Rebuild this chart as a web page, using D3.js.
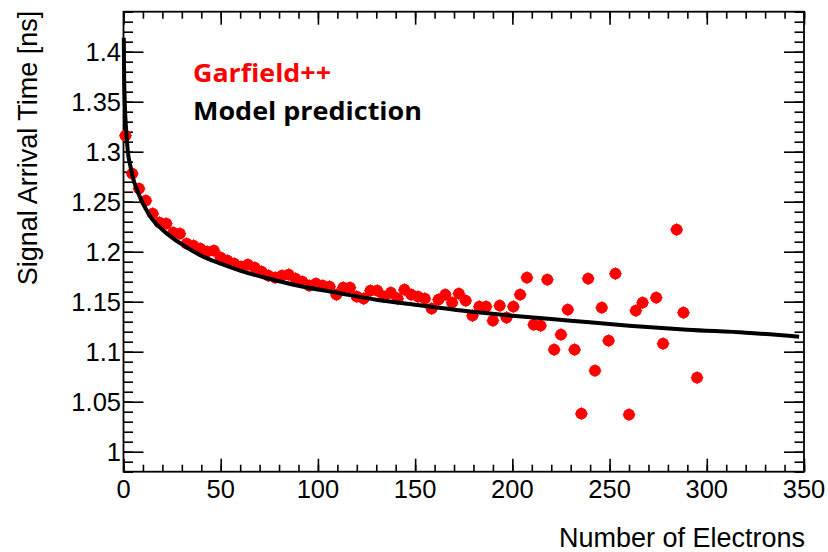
<!DOCTYPE html>
<html>
<head>
<meta charset="utf-8">
<script src="https://cdn.jsdelivr.net/npm/d3@7"></script>
<style>
  html, body { margin: 0; padding: 0; background: #fff; }
  svg { display: block; }
</style>
</head>
<body>
<svg id="chart" width="828" height="552"></svg>
<script>
// ---- data ----
const electrons = [1, 4.5, 8, 11.5, 15, 18.5, 22, 25.5, 29, 32.5, 36, 39.5, 43, 46.5, 50, 53.5, 57, 60.5, 64, 67.5,
  71, 74.5, 78, 81.5, 85, 88.5, 92, 95.5, 99, 102.5, 106, 109.5, 113, 116.5, 120, 123.5, 127, 130.5, 134, 137.5,
  141, 144.5, 148, 151.5, 155, 158.5, 162, 165.5, 169, 172.5, 176, 179.5, 183, 186.5, 190, 193.5, 197, 200.5,
  204, 207.5, 211, 214.5, 218, 221.5, 225, 228.5, 232, 235.5, 239, 242.5, 246, 249.5, 253, 260, 263.5, 267,
  274, 277.5, 284.5, 288, 295];
const arrivalTime = [1.316, 1.278, 1.263, 1.251, 1.238, 1.229, 1.228, 1.219, 1.218, 1.208, 1.206, 1.203, 1.200, 1.201,
  1.194, 1.191, 1.188, 1.185, 1.187, 1.184, 1.180, 1.176, 1.174, 1.176, 1.177, 1.173, 1.170, 1.166, 1.168, 1.166,
  1.165, 1.157, 1.164, 1.164, 1.155, 1.153, 1.161, 1.161, 1.155, 1.159, 1.153, 1.162, 1.157, 1.155, 1.153, 1.143,
  1.152, 1.157, 1.149, 1.158, 1.151, 1.136, 1.145, 1.145, 1.131, 1.146, 1.134, 1.145, 1.157, 1.174, 1.127, 1.126,
  1.172, 1.102, 1.117, 1.142, 1.102, 1.038, 1.173, 1.081, 1.144, 1.111, 1.178, 1.037, 1.141, 1.149, 1.154, 1.108,
  1.222, 1.139, 1.074];

const modelN = [0.15, 0.3, 0.6, 1.0, 1.5, 2.3, 3.5, 5, 6.5, 9, 12, 15, 20, 25, 32, 40, 50, 60, 75, 90,
  110, 130, 150, 175, 200, 230, 260, 290, 320, 347.5];
const modelT = [1.414, 1.380, 1.353, 1.333, 1.318, 1.299, 1.286, 1.273, 1.264, 1.252, 1.241, 1.232, 1.222, 1.214,
  1.205, 1.196, 1.188, 1.181, 1.173, 1.166, 1.159, 1.152, 1.147, 1.141, 1.136, 1.131, 1.126, 1.122, 1.119, 1.115];

const xTickValues = [0, 50, 100, 150, 200, 250, 300, 350];
const xTickLabels = ["0", "50", "100", "150", "200", "250", "300", "350"];
const yTickValues = [1, 1.05, 1.1, 1.15, 1.2, 1.25, 1.3, 1.35, 1.4];
const yTickLabels = ["1", "1.05", "1.1", "1.15", "1.2", "1.25", "1.3", "1.35", "1.4"];

const xTitle = "Number of Electrons";
const yTitle = "Signal Arrival Time [ns]";
const legendLabels = ["Garfield++", "Model prediction"];

// ---- layout ----
const L = 123.5, R = 804, T = 11.7, B = 471.7;
const svg = d3.select("#chart");
svg.append("rect").attr("width", 828).attr("height", 552).attr("fill", "#fff");

const x = d3.scaleLinear().domain([0, 350]).range([L, R]);
const y = d3.scaleLinear().domain([0.98, 1.44]).range([B, T]);

const axisFont = "'Liberation Sans', Arial, Helvetica, sans-serif";

const xMinor = d3.range(0, 351, 10);
const yMinor = d3.range(0, 47).map(i => +(0.98 + i * 0.01).toFixed(2));

function styleAxis(g) {
  g.select(".domain").remove();
  g.selectAll("line").attr("stroke", "#000").attr("stroke-width", 1.6);
  g.selectAll("text").remove();
}

// bottom
svg.append("g").attr("transform", `translate(0,${B})`)
  .call(d3.axisTop(x).tickValues(xMinor).tickSize(7).tickFormat("")).call(styleAxis);
svg.append("g").attr("transform", `translate(0,${B})`)
  .call(d3.axisTop(x).tickValues(xTickValues).tickSize(13).tickFormat("")).call(styleAxis);
// top
svg.append("g").attr("transform", `translate(0,${T})`)
  .call(d3.axisBottom(x).tickValues(xMinor).tickSize(7).tickFormat("")).call(styleAxis);
svg.append("g").attr("transform", `translate(0,${T})`)
  .call(d3.axisBottom(x).tickValues(xTickValues).tickSize(13).tickFormat("")).call(styleAxis);
// left
svg.append("g").attr("transform", `translate(${L},0)`)
  .call(d3.axisRight(y).tickValues(yMinor).tickSize(9.5).tickFormat("")).call(styleAxis);
svg.append("g").attr("transform", `translate(${L},0)`)
  .call(d3.axisRight(y).tickValues(yTickValues).tickSize(20).tickFormat("")).call(styleAxis);
// right
svg.append("g").attr("transform", `translate(${R},0)`)
  .call(d3.axisLeft(y).tickValues(yMinor).tickSize(9.5).tickFormat("")).call(styleAxis);
svg.append("g").attr("transform", `translate(${R},0)`)
  .call(d3.axisLeft(y).tickValues(yTickValues).tickSize(20).tickFormat("")).call(styleAxis);

// frame
svg.append("rect").attr("x", L).attr("y", T).attr("width", R - L).attr("height", B - T)
  .attr("fill", "none").attr("stroke", "#000").attr("stroke-width", 1.8);

// tick labels
svg.append("g").selectAll("text").data(xTickValues).join("text")
  .attr("x", d => x(d)).attr("y", 498.3)
  .attr("text-anchor", "middle")
  .attr("font-family", axisFont).attr("font-size", 25.5)
  .text((d, i) => xTickLabels[i]);

svg.append("g").selectAll("text").data(yTickValues).join("text")
  .attr("x", 121).attr("y", d => y(d))
  .attr("dy", "0.36em")
  .attr("text-anchor", "end")
  .attr("font-family", axisFont).attr("font-size", 25.5)
  .text((d, i) => yTickLabels[i]);

// titles
svg.append("text").attr("x", 805).attr("y", 546.5).attr("text-anchor", "end")
  .attr("font-family", axisFont).attr("font-size", 27).text(xTitle);
svg.append("text")
  .attr("transform", `translate(37,${T - 1}) rotate(-90)`)
  .attr("text-anchor", "end")
  .attr("font-family", axisFont).attr("font-size", 27).text(yTitle);

// data markers with small error crosses
const pts = electrons.map((d, i) => ({ n: d, t: arrivalTime[i] }));
const mk = svg.append("g");
mk.selectAll("line.h").data(pts).join("line").attr("class", "h")
  .attr("x1", d => x(d.n) - 6.4).attr("x2", d => x(d.n) + 6.4)
  .attr("y1", d => y(d.t)).attr("y2", d => y(d.t))
  .attr("stroke", "#ff0000").attr("stroke-width", 1);
mk.selectAll("line.v").data(pts).join("line").attr("class", "v")
  .attr("x1", d => x(d.n)).attr("x2", d => x(d.n))
  .attr("y1", d => y(d.t) - 6.4).attr("y2", d => y(d.t) + 6.4)
  .attr("stroke", "#ff0000").attr("stroke-width", 1);
mk.selectAll("circle").data(pts).join("circle")
  .attr("cx", d => x(d.n)).attr("cy", d => y(d.t)).attr("r", 5.9)
  .attr("fill", "#ff0000");

// model curve
const model = modelN.map((d, i) => ({ n: d, t: modelT[i] }));
svg.append("path").datum(model)
  .attr("d", d3.line().x(d => x(d.n)).y(d => y(d.t)).curve(d3.curveMonotoneX))
  .attr("fill", "none").attr("stroke", "#000").attr("stroke-width", 4);

// legend text
const legFont = "'Open Sans', 'Noto Sans', sans-serif";
svg.append("text").attr("x", 193).attr("y", 82)
  .attr("font-family", legFont).attr("font-weight", "bold").attr("font-size", 25)
  .attr("fill", "#ff0000").attr("textLength", 138).attr("lengthAdjust", "spacingAndGlyphs")
  .text(legendLabels[0]);
svg.append("text").attr("x", 193).attr("y", 119.5)
  .attr("font-family", legFont).attr("font-weight", "bold").attr("font-size", 25)
  .attr("fill", "#000").attr("textLength", 229).attr("lengthAdjust", "spacingAndGlyphs")
  .text(legendLabels[1]);
</script>
</body>
</html>
